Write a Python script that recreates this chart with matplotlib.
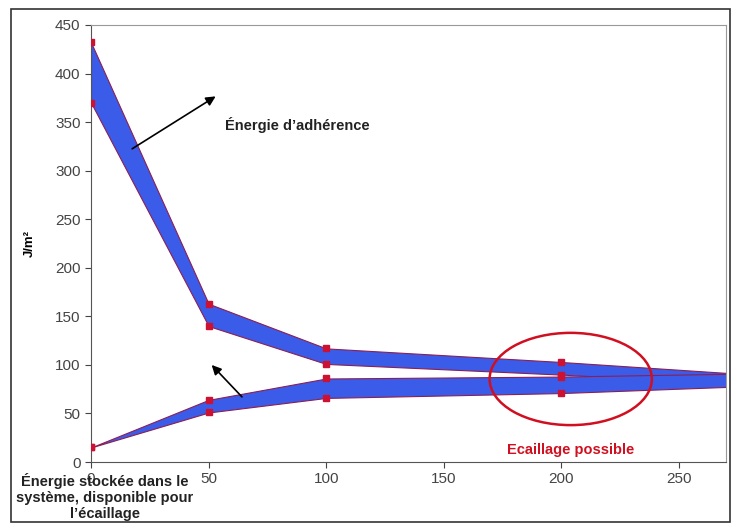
import matplotlib
matplotlib.use("Agg")
import matplotlib.pyplot as plt
from matplotlib.patches import Ellipse, Rectangle

plt.rcParams['font.family'] = ['Liberation Sans', 'DejaVu Sans']

# Data
x_vals = [0, 50, 100, 200, 300]
adh_upper = [432, 163, 117, 103, 87]
adh_lower = [370, 140, 101, 90, 78]
sto_upper = [15, 64, 86, 88, 92]
sto_lower = [15, 51, 66, 71, 80]
marker_x = [0, 50, 100, 200]
x_ticks = [0, 50, 100, 150, 200, 250]
y_ticks = [0, 50, 100, 150, 200, 250, 300, 350, 400, 450]

fig = plt.figure(figsize=(7.34, 5.27), dpi=100)
ax = fig.add_axes([0.124, 0.1233, 0.865, 0.8293])

blue = "#3b5ce8"
edge = "#8a1f55"

ax.fill_between(x_vals, adh_lower, adh_upper, facecolor=blue, edgecolor=edge, linewidth=0.8, zorder=2)
ax.fill_between(x_vals, sto_lower, sto_upper, facecolor=blue, edgecolor=edge, linewidth=0.8, zorder=2)
for series in (adh_upper, adh_lower, sto_upper, sto_lower):
    ax.plot(marker_x, series[:4], linestyle='none', marker='s', markersize=4.5,
            color="#cc1133", zorder=3)

ax.set_xlim(0, 270)
ax.set_ylim(0, 450)
ax.set_xticks(x_ticks)
ax.set_yticks(y_ticks)
ax.set_xticklabels([str(t) for t in x_ticks])
ax.tick_params(axis='both', labelsize=11, colors="#444444", direction='out', length=4)
for s in ('left', 'bottom'):
    ax.spines[s].set_color("#555555")
for s in ('top', 'right'):
    ax.spines[s].set_color("#999999")

ax.set_ylabel("J/m²", fontsize=9.5, fontweight='bold', labelpad=14)

# Annotations
ax.annotate("", xy=(54, 378), xytext=(16.5, 321),
            arrowprops=dict(arrowstyle='-|>', color='black', lw=1.2, mutation_scale=14))
ax.text(57, 347, "Énergie d’adhérence", fontsize=10.5, fontweight='bold', color="#222222",
        va='center', ha='left')
ax.annotate("", xy=(50.5, 102), xytext=(65, 65),
            arrowprops=dict(arrowstyle='-|>', color='black', lw=1.2, mutation_scale=14))

ell = Ellipse((204, 85.5), 69, 95, fill=False, edgecolor="#d01020", linewidth=1.8, zorder=4)
ax.add_patch(ell)
ax.text(204, 12, "Ecaillage possible", fontsize=10.5, fontweight='bold', color="#d01020",
        ha='center', va='center')

fig.text(105/734, 1 - 497/527, "Énergie stockée dans le\nsystème, disponible pour\nl’écaillage",
         fontsize=10.5, fontweight='bold', ha='center', va='center', color="#222222",
         linespacing=1.2)

fig.patches.append(Rectangle((11/734, 5/527), 719/734, 513/527, transform=fig.transFigure,
                             fill=False, edgecolor="#333333", linewidth=1.2))

fig.savefig("out.png", dpi=100)
